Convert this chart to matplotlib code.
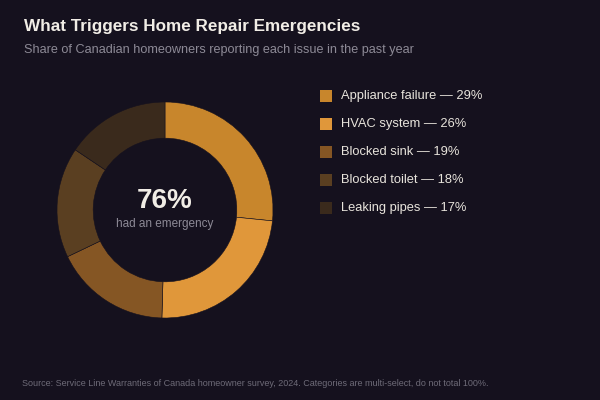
import matplotlib
matplotlib.use("Agg")
import matplotlib.pyplot as plt

# data
categories = ["Appliance failure", "HVAC system", "Blocked sink", "Blocked toilet", "Leaking pipes"]
shares = [29, 26, 19, 18, 17]
colors = ["#c8862c", "#e0973a", "#855624", "#5a3f21", "#3a2a1c"]
headline = "76%"
headline_note = "had an emergency"

BG = "#15111e"
W, H = 600, 400

plt.rcParams["font.family"] = ["Liberation Sans", "DejaVu Sans"]

fig = plt.figure(figsize=(6, 4), dpi=100, facecolor=BG)


def px(x, y):
    # pixel coords from top-left -> figure fraction
    return x / W, 1 - y / H


# donut
cx, cy, r = 165, 210, 108
box = 112
ax = fig.add_axes([(cx - box) / W, (H - cy - box) / H, 2 * box / W, 2 * box / H])
ax.set_facecolor(BG)
ax.pie(shares, colors=colors, startangle=90, counterclock=False, radius=1.0,
       wedgeprops=dict(width=0.335, edgecolor=BG, linewidth=0.4))
lim = box / r
ax.set_xlim(-lim, lim)
ax.set_ylim(-lim, lim)
ax.set_aspect("equal")
ax.axis("off")

ax.text(0, 0.085, headline, ha="center", va="center", fontsize=20,
        fontweight="bold", color="#f1ede6")
ax.text(0, -0.13, headline_note, ha="center", va="center", fontsize=8.5,
        color="#8d8a96")

# titles
fig.text(*px(24, 27), "What Triggers Home Repair Emergencies", ha="left", va="center",
         fontsize=12.3, fontweight="bold", color="#f1ede6")
fig.text(*px(24, 50), "Share of Canadian homeowners reporting each issue in the past year",
         ha="left", va="center", fontsize=9.1, color="#8d8a96")

# legend
for i, (cat, val, col) in enumerate(zip(categories, shares, colors)):
    y = 96 + i * 28
    fig.patches.append(plt.Rectangle(px(320, y + 6), 12 / W, 12 / H,
                                     transform=fig.transFigure, facecolor=col,
                                     edgecolor="none"))
    fig.text(*px(341, y), f"{cat} \u2014 {val}%", ha="left", va="center",
             fontsize=9.25, color="#e8e4dc")

fig.text(*px(22, 383),
         "Source: Service Line Warranties of Canada homeowner survey, 2024. "
         "Categories are multi-select, do not total 100%.",
         ha="left", va="center", fontsize=6.5, color="#6e6b78")

fig.savefig("out.png", dpi=100, facecolor=BG)
